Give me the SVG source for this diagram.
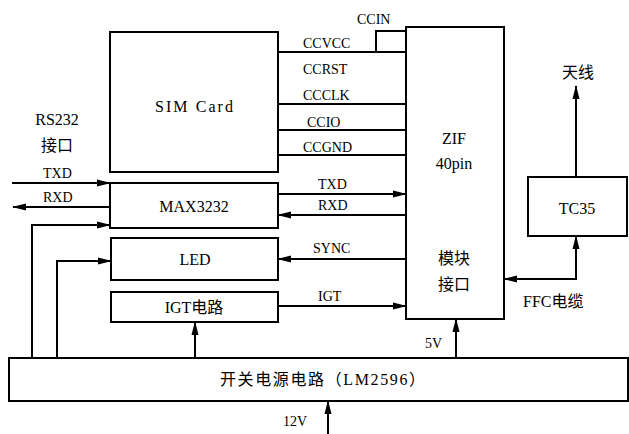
<svg xmlns="http://www.w3.org/2000/svg" width="629" height="434" viewBox="0 0 629 434">
<style>
.box{fill:#fff;stroke:#000;stroke-width:2}
.ln{fill:none;stroke:#000;stroke-width:2}
.ar{fill:none;stroke:#000;stroke-width:2;marker-end:url(#ah)}
text{font-family:"Liberation Serif","Noto Sans CJK SC",serif;font-size:14px;fill:#000}
.c{text-anchor:middle}
.big{font-size:16px}
</style>
<defs>
<marker id="ah" markerUnits="userSpaceOnUse" markerWidth="14" markerHeight="10" refX="13" refY="5" orient="auto">
<path d="M0,1.5 L14,5 L0,8.5 Z" fill="#000"/>
</marker>
</defs>
<rect width="629" height="434" fill="#fff"/>
<g id="sim"><rect class="box" x="110" y="32" width="168" height="140"/><text class="big" x="155" y="112" textLength="78">SIM Card</text></g>
<g id="max3232"><rect class="box" x="110" y="183" width="168" height="45"/><text class="c big" x="194" y="212">MAX3232</text></g>
<g id="led"><rect class="box" x="111" y="238" width="167" height="42"/><text class="c big" x="195" y="265">LED</text></g>
<g id="igt"><rect class="box" x="111" y="292" width="167" height="30"/><text class="c big" x="194" y="313">IGT电路</text></g>
<g id="zif"><rect class="box" x="406" y="27" width="98" height="292"/>
<text class="c big" x="454" y="144">ZIF</text><text class="c big" x="454" y="169">40pin</text>
<text class="c big" x="454" y="264">模块</text><text class="c big" x="454" y="290">接口</text></g>
<g id="tc35"><rect class="box" x="528" y="177" width="99" height="59"/><text class="c big" x="577" y="214">TC35</text></g>
<g id="power"><rect class="box" x="9" y="358" width="619" height="43"/><text class="big" x="220" y="385" textLength="205">开关电源电路（LM2596）</text></g>
<g id="connectors">
<path class="ln" d="M278,52 H406 M376,52 V31 H406 M278,104 H406 M278,130 H406 M278,155 H406"/>
<path class="ar" d="M278,194 H406"/>
<path class="ar" d="M406,215 H278"/>
<path class="ar" d="M406,259 H278"/>
<path class="ar" d="M278,306 H406"/>
<path class="ar" d="M12,183 H110"/>
<path class="ar" d="M110,207 H13"/>
<path class="ar" d="M32,358 V225 H110"/>
<path class="ar" d="M57,358 V261 H111"/>
<path class="ar" d="M195,358 V322"/>
<path class="ar" d="M456,358 V319"/>
<path class="ar" d="M328,434 V401"/>
<path class="ar" d="M576,177 V86"/>
<path class="ar" d="M576,258 V236"/>
<path class="ar" d="M576,250 V279 H504"/>
</g>
<g id="labels">
<text x="357" y="24">CCIN</text>
<text x="303" y="48">CCVCC</text>
<text x="303" y="74">CCRST</text>
<text x="303" y="100">CCCLK</text>
<text x="307" y="127">CCIO</text>
<text x="303" y="152">CCGND</text>
<text x="318" y="189">TXD</text>
<text x="318" y="210">RXD</text>
<text x="313" y="253">SYNC</text>
<text x="318" y="301">IGT</text>
<text x="43" y="178">TXD</text>
<text x="43" y="202">RXD</text>
<text class="c big" x="57" y="125">RS232</text>
<text class="c big" x="57" y="151">接口</text>
<text x="425" y="348">5V</text>
<text x="283" y="426">12V</text>
<text class="c big" x="578" y="78">天线</text>
<text class="big" x="523" y="307">FFC电缆</text>
</g>
</svg>
